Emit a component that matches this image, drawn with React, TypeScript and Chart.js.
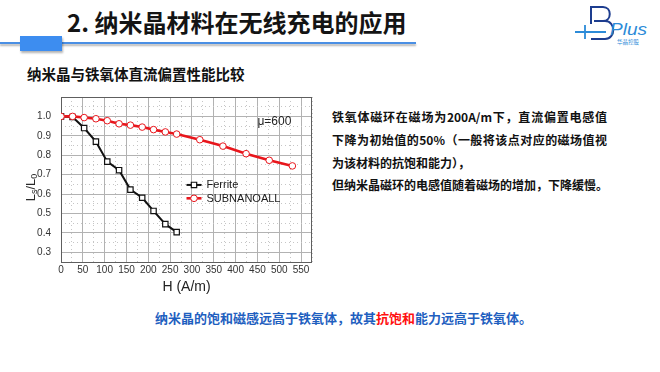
import React, { useEffect, useRef } from "react";
import { Chart, registerables } from "chart.js";

Chart.register(...registerables);

// ---- data ----
const seriesNames = ["Ferrite", "SUBNANOALL"];
const ferriteH = [0, 26.5, 53, 80, 106, 133, 159, 186, 212, 239, 265];
const ferriteL = [1.0, 0.997, 0.94, 0.87, 0.767, 0.723, 0.623, 0.581, 0.513, 0.445, 0.404];
const nanoH = [0, 26.5, 53, 80, 106, 133, 159, 186, 212, 239, 265, 318, 371, 424, 477, 530];
const nanoL = [1.0, 1.0, 0.994, 0.988, 0.978, 0.962, 0.955, 0.945, 0.932, 0.92, 0.909, 0.88, 0.847, 0.808, 0.774, 0.745];
const xTickLabels = ["0", "50", "100", "150", "200", "250", "300", "350", "400", "450", "500", "550"];
const yTickLabels = ["0.3", "0.4", "0.5", "0.6", "0.7", "0.8", "0.9", "1.0"];
const xAxisTitle = "H (A/m)";
const yAxisTitleParts = ["L", "s", "/", "L", "0"];
const annotationText = "μ=600";

const titleText = "2. 纳米晶材料在无线充电的应用";
const subtitleText = "纳米晶与铁氧体直流偏置性能比较";
const bodyLines = [
  "铁氧体磁环在磁场为200A/m下，直流偏置电感值",
  "下降为初始值的50%（一般将该点对应的磁场值视",
  "为该材料的抗饱和能力），",
  "但纳米晶磁环的电感值随着磁场的增加，下降缓慢。",
];
const footerParts = ["纳米晶的饱和磁感远高于铁氧体，故其", "抗饱和", "能力远高于铁氧体。"];

const CJK = '"Noto Sans CJK SC", "Noto Sans", sans-serif';
const LAT = '"Liberation Sans", Arial, sans-serif';

const isMajorX = (v: number) => Math.abs(v % 50) < 1e-6;
const isMajorY = (v: number) => Math.abs(v * 10 - Math.round(v * 10)) < 1e-6;

const framePlugin = {
  id: "frame",
  beforeDatasetsDraw(chart: any) {
    const { ctx, chartArea: a } = chart;
    ctx.save();
    ctx.strokeStyle = "#5e5e5e";
    ctx.lineWidth = 1;
    ctx.strokeRect(Math.round(a.left) + 0.5, Math.round(a.top) + 0.5, Math.round(a.right - a.left) - 1, Math.round(a.bottom - a.top));
    ctx.restore();
  },
};

const overlayPlugin = {
  id: "overlay",
  afterDraw(chart: any) {
    const { ctx, chartArea: a, scales } = chart;
    ctx.save();
    // y-axis title with subscripts
    const big = `13px ${LAT}`;
    const small = `9px ${LAT}`;
    const parts = yAxisTitleParts.map((t, i) => ({ t, sub: i === 1 || i === 4 }));
    let total = 0;
    parts.forEach((p) => {
      ctx.font = p.sub ? small : big;
      total += ctx.measureText(p.t).width;
    });
    ctx.translate(a.left - 30, (a.top + a.bottom) / 2 + 8);
    ctx.rotate(-Math.PI / 2);
    ctx.fillStyle = "#2a2a2a";
    ctx.textBaseline = "middle";
    ctx.textAlign = "left";
    let cx = -total / 2;
    parts.forEach((p) => {
      ctx.font = p.sub ? small : big;
      ctx.fillText(p.t, cx, p.sub ? 4 : 0);
      cx += ctx.measureText(p.t).width;
    });
    ctx.restore();

    // in-plot legend
    ctx.save();
    const ds = chart.data.datasets;
    const lx0 = a.left + a.width * 0.5;
    const lx1 = lx0 + 15;
    const rows = [a.top + a.height * 0.533, a.top + a.height * 0.614];
    ds.forEach((d: any, i: number) => {
      const y = rows[i];
      ctx.strokeStyle = d.borderColor;
      ctx.lineWidth = d.borderWidth;
      ctx.beginPath();
      ctx.moveTo(lx0, y);
      ctx.lineTo(lx1, y);
      ctx.stroke();
      const mx = (lx0 + lx1) / 2;
      ctx.fillStyle = "#fff";
      ctx.lineWidth = d.pointBorderWidth;
      ctx.strokeStyle = d.pointBorderColor;
      ctx.beginPath();
      if (d.pointStyle === "rect") {
        const s = d.pointRadius * Math.SQRT1_2;
        ctx.rect(mx - s, y - s, 2 * s, 2 * s);
      } else {
        ctx.arc(mx, y, d.pointRadius, 0, Math.PI * 2);
      }
      ctx.fill();
      ctx.stroke();
      ctx.fillStyle = "#1a1a1a";
      ctx.font = `11px ${LAT}`;
      ctx.textBaseline = "middle";
      ctx.textAlign = "left";
      ctx.fillText(d.label, lx1 + 5, y + 0.5);
    });
    // annotation
    ctx.font = `12px ${LAT}`;
    ctx.fillStyle = "#222";
    ctx.textBaseline = "middle";
    ctx.fillText(annotationText, scales.x.getPixelForValue(450), scales.y.getPixelForValue(0.973));
    ctx.restore();
  },
};

function PlotCanvas() {
  const ref = useRef<HTMLCanvasElement | null>(null);
  useEffect(() => {
    const canvas = ref.current;
    if (!canvas) return;
    const tickFont = { family: LAT, size: 10 };
    const chart = new Chart(canvas, {
      type: "line",
      data: {
        datasets: [
          {
            label: seriesNames[0],
            data: ferriteH.map((h, i) => ({ x: h, y: ferriteL[i] })),
            borderColor: "#111111",
            backgroundColor: "#ffffff",
            borderWidth: 2,
            pointStyle: "rect",
            pointRadius: 3.8,
            pointBorderWidth: 1.2,
            pointBorderColor: "#111111",
            pointBackgroundColor: "#ffffff",
            tension: 0,
            order: 1,
          },
          {
            label: seriesNames[1],
            data: nanoH.map((h, i) => ({ x: h, y: nanoL[i] })),
            borderColor: "#e8161c",
            backgroundColor: "#ffffff",
            borderWidth: 2.6,
            pointStyle: "circle",
            pointRadius: 3.3,
            pointBorderWidth: 1,
            pointBorderColor: "#e8161c",
            pointBackgroundColor: "#ffffff",
            tension: 0,
            order: 0,
          },
        ] as any,
      },
      options: {
        responsive: false,
        animation: false,
        events: [],
        layout: { padding: { left: 10, top: 20, right: 18, bottom: 6 } },
        plugins: { legend: { display: false }, tooltip: { enabled: false } },
        scales: {
          x: {
            type: "linear",
            min: 0,
            max: 575,
            ticks: {
              stepSize: 25,
              autoSkip: false,
              maxRotation: 0,
              padding: 2,
              color: "#333",
              font: tickFont,
              callback: (value: any) => {
                const s = String(Math.round(Number(value)));
                return isMajorX(Number(value)) && xTickLabels.includes(s) ? s : "";
              },
            },
            grid: {
              drawTicks: false,
              lineWidth: 1,
              color: (c: any) => (c.tick && isMajorX(c.tick.value) ? "#b2b2b2" : "#c6c6c6"),
            },
            border: {
              display: false,
              dash: (c: any) => (c.tick && isMajorX(c.tick.value) ? [] : [1, 3]),
            },
            title: {
              display: true,
              text: xAxisTitle,
              color: "#222",
              font: { family: LAT, size: 14 },
              padding: { top: 4, bottom: 0 },
            },
            afterFit: (s: any) => {
              s.height = 34;
            },
          },
          y: {
            type: "linear",
            min: 0.25,
            max: 1.1,
            ticks: {
              stepSize: 0.05,
              autoSkip: false,
              padding: 10,
              color: "#333",
              font: tickFont,
              callback: (value: any) => {
                const v = Number(value);
                if (!isMajorY(v)) return "";
                const s = (Math.round(v * 10) / 10).toFixed(1);
                return yTickLabels.includes(s) ? s : "";
              },
            },
            grid: {
              drawTicks: false,
              lineWidth: 1,
              color: (c: any) => (c.tick && isMajorY(c.tick.value) ? "#b2b2b2" : "#c6c6c6"),
            },
            border: {
              display: false,
              dash: (c: any) => (c.tick && isMajorY(c.tick.value) ? [] : [1, 3]),
            },
            afterFit: (s: any) => {
              s.width = 41;
            },
          },
        },
      } as any,
      plugins: [framePlugin, overlayPlugin],
    });
    return () => chart.destroy();
  }, []);
  return (
    <canvas
      ref={ref}
      width={320}
      height={225}
      style={{ position: "absolute", left: 10, top: 77, width: 320, height: 225 }}
    />
  );
}

function Logo() {
  return (
    <svg
      width={90}
      height={50}
      viewBox="0 0 90 50"
      style={{ position: "absolute", left: 570, top: 0 }}
    >
      <path d="M20 7 H33 C42 7 42 21 33 21 H24 M24 21 H35 C46 21 46 39 35 39 H21" fill="none" stroke="#1d3d8f" strokeWidth={2} />
      <path d="M21 7 V24" fill="none" stroke="#1d3d8f" strokeWidth={2} />
      <path d="M5 32 H36 M15 25 V39" fill="none" stroke="#2c8bd8" strokeWidth={1.8} />
      <text x={40} y={35} fontFamily={LAT} fontStyle="italic" fontSize={17} fill="#2c8bd8" textLength={37} lengthAdjust="spacingAndGlyphs">
        Plus
      </text>
      <text x={47} y={44} fontFamily={CJK} fontSize={5.5} fill="#2c8bd8">
        华晶控股
      </text>
    </svg>
  );
}

export default function App() {
  const abs = (extra: React.CSSProperties): React.CSSProperties => ({
    position: "absolute",
    whiteSpace: "nowrap",
    lineHeight: 1,
    ...extra,
  });
  return (
    <div
      style={{
        position: "absolute",
        left: 0,
        top: 0,
        width: 660,
        height: 372,
        overflow: "hidden",
        background: "#ffffff",
        fontFamily: CJK,
        color: "#111",
      }}
    >
      {/* header */}
      <div style={abs({ left: 67, top: 9.7, fontSize: 24, fontWeight: 700, color: "#141414" })}>{titleText}</div>
      <div
        style={{
          position: "absolute",
          left: 0,
          top: 42,
          width: 416,
          height: 2,
          background: "#4a8fe4",
          boxShadow: "0 2px 2px rgba(0,0,0,0.3)",
        }}
      />
      <div
        style={{
          position: "absolute",
          left: 20,
          top: 36,
          width: 42,
          height: 15,
          background: "#3d8df0",
          boxShadow: "1px 2px 2px rgba(0,0,0,0.3)",
        }}
      />
      <Logo />
      <div style={abs({ left: 27, top: 67, fontSize: 14.5, fontWeight: 700, color: "#111" })}>{subtitleText}</div>

      <PlotCanvas />

      {/* right-hand explanation */}
      <div style={abs({ left: 332, top: 111.3, width: 275, fontSize: 12, fontWeight: 700, textAlign: "justify", textAlignLast: "justify" as any, whiteSpace: "normal" })}>
        {bodyLines[0]}
      </div>
      <div style={abs({ left: 332, top: 134.3, width: 275, fontSize: 12, fontWeight: 700, textAlign: "justify", textAlignLast: "justify" as any, whiteSpace: "normal" })}>
        {bodyLines[1]}
      </div>
      <div style={abs({ left: 332, top: 157.3, fontSize: 12, fontWeight: 700 })}>{bodyLines[2]}</div>
      <div style={abs({ left: 332, top: 179.3, fontSize: 12, fontWeight: 700 })}>{bodyLines[3]}</div>

      {/* footer */}
      <div style={abs({ left: 155, top: 310.8, fontSize: 13, fontWeight: 700, color: "#1f5fbf" })}>
        {footerParts[0]}
        <span style={{ color: "#ff1010" }}>{footerParts[1]}</span>
        {footerParts[2]}
      </div>
    </div>
  );
}
